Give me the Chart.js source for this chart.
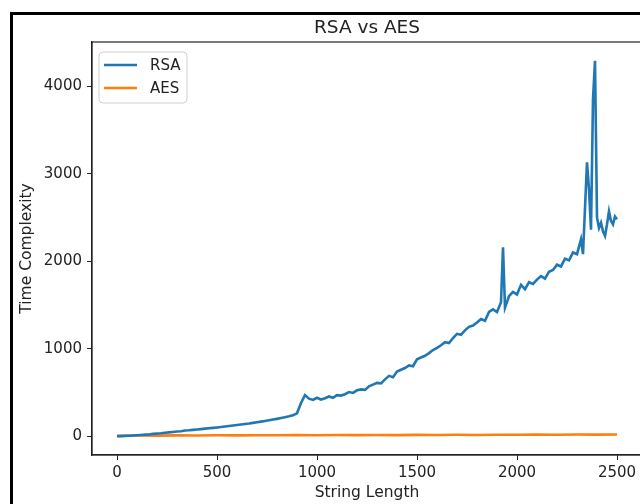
<!DOCTYPE html>
<html>
<head>
<meta charset="utf-8">
<script src="https://cdn.jsdelivr.net/npm/chart.js@4.4.1/dist/chart.umd.min.js"></script>
<style>
  html, body { margin: 0; padding: 0; background: #fff; }
  #wrap { position: relative; width: 640px; height: 504px; overflow: hidden; }
  #chart { position: absolute; left: 0; top: 0; }
  #frame { position: absolute; left: 10px; top: 12px; width: 700px; height: 600px;
           border-left: 3.5px solid #000; border-top: 3.5px solid #000; pointer-events: none; }
</style>
</head>
<body>
<div id="wrap">
  <canvas id="chart" width="680" height="504"></canvas>
  <div id="frame"></div>
</div>
<script>
const lengths = [0, 20, 40, 60, 80, 100, 120, 140, 160, 180, 200, 220, 240, 260, 280, 300, 320, 340, 360, 380,
  400, 420, 440, 460, 480, 500, 520, 540, 560, 580, 600, 620, 640, 660, 680, 700, 720, 740, 760, 780,
  800, 820, 840, 860, 880, 900, 920, 940, 960, 980, 1000, 1020, 1040, 1060, 1080, 1100, 1120, 1140, 1160, 1180,
  1200, 1220, 1240, 1260, 1280, 1300, 1320, 1340, 1360, 1380, 1400, 1420, 1440, 1460, 1480, 1500, 1520, 1540, 1560, 1580,
  1600, 1620, 1640, 1660, 1680, 1700, 1720, 1740, 1760, 1780, 1800, 1820, 1840, 1860, 1880, 1900, 1920, 1930, 1940, 1960,
  1980, 2000, 2020, 2040, 2060, 2080, 2100, 2120, 2140, 2160, 2180, 2200, 2220, 2240, 2260, 2280, 2300, 2320, 2330, 2350,
  2360, 2370, 2380, 2390, 2400, 2410, 2420, 2430, 2440, 2450, 2460, 2470, 2480, 2490, 2500];
const rsa = [0, 2, 4, 6, 9, 12, 15, 19, 21, 27, 30, 34, 40, 44, 49, 55, 58, 65, 68, 73,
  77, 82, 87, 92, 96, 101, 106, 111, 117, 123, 128, 134, 141, 146, 153, 160, 167, 175, 182, 191,
  199, 208, 218, 228, 240, 262, 380, 470, 430, 415, 440, 420, 435, 455, 440, 470, 465, 480, 505, 495,
  525, 535, 530, 570, 590, 610, 605, 650, 690, 675, 740, 760, 780, 810, 800, 880, 900, 920, 950, 985,
  1010, 1040, 1075, 1065, 1120, 1170, 1160, 1210, 1250, 1265, 1300, 1340, 1320, 1420, 1450, 1420, 1530, 2160, 1470, 1600,
  1650, 1620, 1730, 1680, 1760, 1740, 1790, 1830, 1800, 1880, 1900, 1960, 1940, 2030, 2010, 2100, 2080, 2250, 2080, 3130,
  2820, 2360, 3850, 4290, 2500, 2380, 2440, 2340, 2290, 2420, 2570, 2460, 2420, 2510, 2480];

const aesLengths = [0, 100, 200, 300, 400, 500, 600, 700, 800, 900, 1000, 1100, 1200, 1300, 1400, 1500, 1600, 1700,
  1800, 1900, 2000, 2100, 2200, 2300, 2400, 2500];
const aes = [5, 8, 7, 10, 9, 11, 10, 12, 11, 13, 12, 14, 13, 15, 13, 16, 15, 17, 15, 18, 17, 19, 18, 20, 19, 21];

const xTicks = [0, 500, 1000, 1500, 2000, 2500];
const yTicks = [0, 1000, 2000, 3000, 4000];

const FONT = "'DejaVu Sans', sans-serif";
const BLUE = '#1f77b4', ORANGE = '#ff7f0e';

// spines all round plus the title centred over the axes, like matplotlib
const boxPlugin = {
  id: 'box',
  afterDraw(chart) {
    const a = chart.chartArea, ctx = chart.ctx;
    ctx.save();
    ctx.strokeStyle = '#222';
    ctx.lineWidth = 1.2;
    ctx.strokeRect(a.left, a.top, a.right - a.left, a.bottom - a.top);
    ctx.fillStyle = '#222';
    ctx.font = '18.5px ' + FONT;
    ctx.textAlign = 'center';
    ctx.textBaseline = 'middle';
    ctx.fillText('RSA vs AES', (a.left + a.right) / 2, 28);
    ctx.restore();
  }
};

// legend box in upper left
const legendPlugin = {
  id: 'mplLegend',
  afterDraw(chart) {
    const ctx = chart.ctx;
    const x = 99, y = 52, w = 88, h = 51, r = 4;
    ctx.save();
    ctx.fillStyle = 'rgba(255,255,255,0.8)';
    ctx.strokeStyle = '#d0d0d0';
    ctx.lineWidth = 1;
    ctx.beginPath();
    ctx.roundRect(x, y, w, h, r);
    ctx.fill();
    ctx.stroke();
    const items = [['RSA', BLUE, 65], ['AES', ORANGE, 88]];
    ctx.font = '15px ' + FONT;
    ctx.textBaseline = 'middle';
    items.forEach(([label, color, ly]) => {
      ctx.strokeStyle = color;
      ctx.lineWidth = 2.5;
      ctx.beginPath();
      ctx.moveTo(104, ly);
      ctx.lineTo(137, ly);
      ctx.stroke();
      ctx.fillStyle = '#222';
      ctx.fillText(label, 150, ly + 1);
    });
    ctx.restore();
  }
};

new Chart(document.getElementById('chart'), {
  type: 'line',
  data: {
    datasets: [
      {
        label: 'RSA',
        data: lengths.map((l, i) => ({x: l, y: rsa[i]})),
        borderColor: BLUE,
        borderWidth: 2.6,
        pointRadius: 0,
        tension: 0
      },
      {
        label: 'AES',
        data: aesLengths.map((l, i) => ({x: l, y: aes[i]})),
        borderColor: ORANGE,
        borderWidth: 2.6,
        pointRadius: 0,
        tension: 0
      }
    ]
  },
  options: {
    responsive: false,
    animation: false,
    layout: { padding: { left: 0, right: 38, top: 42, bottom: 0 } },
    plugins: {
      legend: { display: false },
      tooltip: { enabled: false },
      title: { display: false }
    },
    scales: {
      x: {
        type: 'linear',
        min: -125,
        max: 2625,
        afterFit: s => { s.height = 49; },
        afterBuildTicks: s => { s.ticks = xTicks.map(v => ({value: v})); },
        grid: { drawOnChartArea: false, drawTicks: true, tickLength: 5, color: '#222' },
        border: { display: true, color: '#222', width: 1.2 },
        ticks: { color: '#222', padding: 4, maxRotation: 0, font: { family: FONT, size: 15 },
                 callback: v => String(v) },
        title: {
          display: true,
          text: 'String Length',
          color: '#222',
          font: { family: FONT, size: 15.5 },
          padding: { top: 0, bottom: 2 }
        }
      },
      y: {
        type: 'linear',
        min: -214,
        max: 4504,
        afterFit: s => { s.width = 92; },
        afterBuildTicks: s => { s.ticks = yTicks.map(v => ({value: v})); },
        grid: { drawOnChartArea: false, drawTicks: true, tickLength: 5, color: '#222' },
        border: { display: true, color: '#222', width: 1.2 },
        ticks: { color: '#222', padding: 5, font: { family: FONT, size: 15 },
                 callback: v => String(v) },
        title: {
          display: true,
          text: 'Time Complexity',
          color: '#222',
          font: { family: FONT, size: 15.5 },
          padding: { top: 18, bottom: 0 }
        }
      }
    }
  },
  plugins: [boxPlugin, legendPlugin]
});
</script>
</body>
</html>
